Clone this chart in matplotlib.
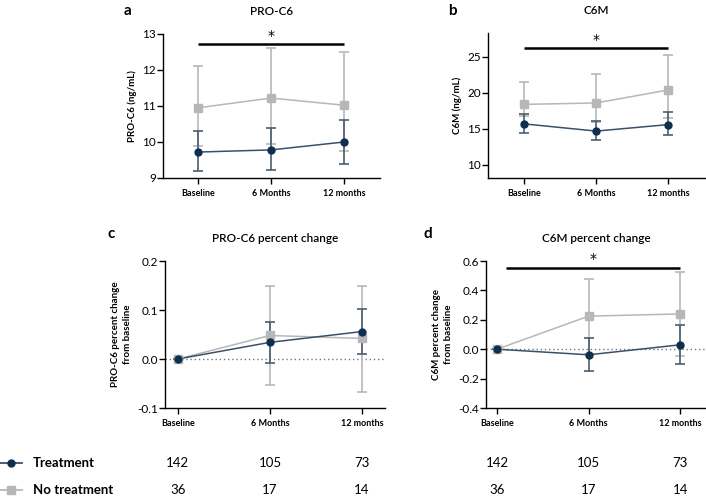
import matplotlib.pyplot as plt
from matplotlib.transforms import blended_transform_factory
import numpy as np

plt.rcParams['font.family'] = ['Lato', 'DejaVu Sans']

timepoints = ['Baseline', '6 Months', '12 months']
x = np.arange(3)

# panel a: PRO-C6 (ng/mL)
proc6_tr = [9.72, 9.78, 10.0]
proc6_tr_lo = [9.2, 9.23, 9.4]
proc6_tr_hi = [10.3, 10.4, 10.6]
proc6_no = [10.95, 11.22, 11.02]
proc6_no_lo = [9.88, 9.95, 9.75]
proc6_no_hi = [12.1, 12.6, 12.5]

# panel b: C6M (ng/mL)
c6m_tr = [15.7, 14.7, 15.6]
c6m_tr_lo = [14.5, 13.5, 14.1]
c6m_tr_hi = [17.1, 16.1, 17.3]
c6m_no = [18.4, 18.6, 20.4]
c6m_no_lo = [16.8, 16.0, 16.5]
c6m_no_hi = [21.5, 22.6, 25.2]

# panel c: PRO-C6 percent change
pc_proc6_tr = [0.0, 0.034, 0.056]
pc_proc6_tr_lo = [0.0, -0.008, 0.01]
pc_proc6_tr_hi = [0.0, 0.076, 0.103]
pc_proc6_no = [0.0, 0.048, 0.042]
pc_proc6_no_lo = [0.0, -0.053, -0.067]
pc_proc6_no_hi = [0.0, 0.148, 0.15]

# panel d: C6M percent change
pc_c6m_tr = [0.0, -0.038, 0.03]
pc_c6m_tr_lo = [0.0, -0.15, -0.1]
pc_c6m_tr_hi = [0.0, 0.075, 0.163]
pc_c6m_no = [0.0, 0.225, 0.24]
pc_c6m_no_lo = [0.0, -0.03, -0.045]
pc_c6m_no_hi = [0.0, 0.48, 0.525]

n_treatment = [142, 105, 73]
n_no_treatment = [36, 17, 14]

NAVY = '#0e2f4f'
NAVY_ERR = '#4b5d70'
NAVY_LINE = '#3a5068'
GREY = '#b7b7b7'


def draw_series(ax, vals, lo, hi, color, line_color, err_color, marker, ms):
    vals = np.array(vals)
    yerr = [vals - np.array(lo), np.array(hi) - vals]
    ax.errorbar(x, vals, yerr=yerr, fmt='none', ecolor=err_color,
                elinewidth=1.2, capsize=3.5, capthick=1.2, zorder=2)
    ax.plot(x, vals, color=line_color, lw=1.1, zorder=3)
    ax.plot(x, vals, marker, color=color, ms=ms, zorder=4, lw=0)


def style_axis(ax, ylim, yticks, xlim, ylabel, title):
    ax.set_ylim(*ylim)
    ax.set_xlim(*xlim)
    ax.set_yticks(yticks)
    ax.set_xticks(x)
    ax.set_xticklabels(timepoints, fontsize=6.5, fontweight='bold')
    ax.spines['top'].set_visible(False)
    ax.spines['right'].set_visible(False)
    ax.spines['left'].set_linewidth(1.0)
    ax.spines['bottom'].set_linewidth(1.0)
    ax.tick_params(axis='y', labelsize=8.5, length=4, width=1.0, pad=1)
    ax.tick_params(axis='x', length=4, width=1.0, pad=4)
    ax.set_ylabel(ylabel, fontsize=7, fontweight='bold', labelpad=4,
                  linespacing=1.4)
    ax.set_title(title, fontsize=8.5, fontweight='semibold', pad=14)


def star(ax, xs, y, x_star):
    ax.plot(xs, [y, y], color='black', lw=1.8, solid_capstyle='butt')
    ax.annotate('*', (x_star, y), xytext=(0, 1), textcoords='offset points',
                ha='center', va='bottom', fontsize=10,
                family='DejaVu Sans')


fig = plt.figure(figsize=(7.06, 4.98), dpi=100)

ax_a = fig.add_axes([0.2309, 0.6426, 0.3074, 0.2892])
ax_b = fig.add_axes([0.6912, 0.6426, 0.3074, 0.2912])
ax_c = fig.add_axes([0.2337, 0.1807, 0.3116, 0.2952])
ax_d = fig.add_axes([0.6884, 0.1807, 0.3116, 0.2952])

# a
draw_series(ax_a, proc6_no, proc6_no_lo, proc6_no_hi, GREY, GREY, GREY, 's', 5.5)
draw_series(ax_a, proc6_tr, proc6_tr_lo, proc6_tr_hi, NAVY, NAVY_LINE, NAVY_ERR, 'o', 5)
style_axis(ax_a, (9, 13), [9, 10, 11, 12, 13], (-0.48, 2.49),
           'PRO-C6 (ng/mL)', 'PRO-C6')
star(ax_a, [0, 2], 12.72, 1)

# b
draw_series(ax_b, c6m_no, c6m_no_lo, c6m_no_hi, GREY, GREY, GREY, 's', 5.5)
draw_series(ax_b, c6m_tr, c6m_tr_lo, c6m_tr_hi, NAVY, NAVY_LINE, NAVY_ERR, 'o', 5)
style_axis(ax_b, (8.2, 28.3), [10, 15, 20, 25], (-0.5, 2.51),
           'C6M (ng/mL)', 'C6M')
star(ax_b, [0, 2], 26.2, 1)

# c
ax_c.axhline(0, color='#777777', lw=1.0, ls=(0, (1, 2)), zorder=1)
draw_series(ax_c, pc_proc6_no, pc_proc6_no_lo, pc_proc6_no_hi, GREY, GREY, GREY, 's', 5.5)
draw_series(ax_c, pc_proc6_tr, pc_proc6_tr_lo, pc_proc6_tr_hi, NAVY, NAVY_LINE, NAVY_ERR, 'o', 5)
style_axis(ax_c, (-0.1, 0.2), [-0.1, 0.0, 0.1, 0.2], (-0.14, 2.25),
           'PRO-C6 percent change\nfrom baseline', 'PRO-C6 percent change')
ax_c.set_yticklabels(['-0.1', '0.0', '0.1', '0.2'])

# d
ax_d.axhline(0, color='#777777', lw=1.0, ls=(0, (1, 2)), zorder=1)
draw_series(ax_d, pc_c6m_no, pc_c6m_no_lo, pc_c6m_no_hi, GREY, GREY, GREY, 's', 5.5)
draw_series(ax_d, pc_c6m_tr, pc_c6m_tr_lo, pc_c6m_tr_hi, NAVY, NAVY_LINE, NAVY_ERR, 'o', 5)
style_axis(ax_d, (-0.4, 0.6), [-0.4, -0.2, 0.0, 0.2, 0.4, 0.6], (-0.12, 2.28),
           'C6M percent change\nfrom baseline', 'C6M percent change')
ax_d.set_yticklabels(['-0.4', '-0.2', '0.0', '0.2', '0.4', '0.6'])
star(ax_d, [0.1, 2], 0.555, 1.05)

# panel letters
for letter, px, py in [('a', 127, 11), ('b', 452, 11), ('c', 111, 234), ('d', 428, 234)]:
    fig.text(px / 706, 1 - py / 498, letter, fontsize=11, fontweight='bold',
             ha='center', va='center')

# number-at-risk table
for ax in (ax_c, ax_d):
    tr = blended_transform_factory(ax.transData, fig.transFigure)
    for xi, n1, n2 in zip(x, n_treatment, n_no_treatment):
        fig.text(xi, 1 - 463 / 498, str(n1), transform=tr, ha='center',
                 va='center', fontsize=9.5)
        fig.text(xi, 1 - 490 / 498, str(n2), transform=tr, ha='center',
                 va='center', fontsize=9.5)

leg = fig.add_axes([0, 0, 1, 1], facecolor='none')
leg.set_xlim(0, 706)
leg.set_ylim(498, 0)
leg.axis('off')
leg.plot([0, 22], [463, 463], color=NAVY_LINE, lw=1.3)
leg.plot([11], [463], 'o', color=NAVY, ms=5)
leg.plot([0, 22], [490, 490], color=GREY, lw=1.3)
leg.plot([11], [490], 's', color=GREY, ms=5.5)
leg.text(33, 463, 'Treatment', fontsize=9.5, fontweight='bold', va='center')
leg.text(33, 490, 'No treatment', fontsize=9.5, fontweight='bold', va='center')

fig.savefig('out.png', dpi=100)
